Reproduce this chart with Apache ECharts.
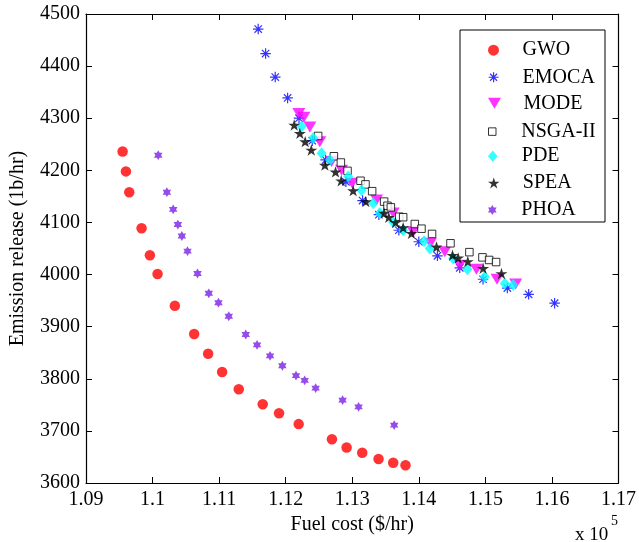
<!DOCTYPE html>
<html>
<head>
<meta charset="utf-8">
<script src="https://cdn.jsdelivr.net/npm/echarts@6/dist/echarts.min.js"></script>
<style>html,body{margin:0;padding:0;background:#fff}#c{width:639px;height:542px}</style>
</head>
<body>
<div id="c"></div>
<script>
// Data (fuel cost in $/hr, emission in lb/hr)
var seriesNames = ['GWO', 'EMOCA', 'MODE', 'NSGA-II', 'PDE', 'SPEA', 'PHOA'];
var xTicks = { min: 109000, max: 117000, step: 1000 };
var yTicks = { min: 3600, max: 4500, step: 100 };

var gwoX = [109550,109600,109650,109835,109960,110075,110335,110625,110835,111045,111295,111655,111900,112195,112695,112915,113150,113395,113615,113800];
var gwoY = [4236,4198,4158,4089,4037,4001,3940,3886,3848,3813,3780,3751,3734,3713,3684,3668,3658,3646,3639,3634];

var emocaX = [111587,111698,111843,112029,112200,112400,112600,112905,113155,113400,113700,114000,114280,114615,114965,115330,115650,116040];
var emocaY = [4471,4424,4379,4339,4300,4257,4220,4178,4142,4115,4085,4063,4036,4013,3991,3974,3962,3945];

var modeX = [112198,112273,112363,112513,112690,112840,113000,113365,113615,113915,114175,114390,114615,114865,115175,115455];
var modeY = [4309,4302,4283,4255,4217,4200,4175,4143,4118,4082,4060,4044,4018,4010,3991,3982];

var nsgaX = [112488,112724,112829,112929,113124,113199,113299,113479,113529,113580,113705,113765,113940,114040,114199,114476,114760,114956,115056,115161];
var nsgaY = [4266,4227,4215,4199,4180,4173,4160,4140,4132,4129,4111,4110,4097,4088,4078,4060,4043,4033,4028,4024];

var pdeX = [112238,112413,112539,112665,112939,113139,113314,113414,113614,113765,114078,114165,114516,114730,114991,115291,115417];
var pdeY = [4284,4262,4233,4220,4188,4162,4137,4118,4101,4085,4064,4050,4031,4010,3996,3983,3980];

var speaX = [112128,112213,112293,112385,112589,112749,112834,113014,113204,113479,113549,113650,113765,113890,114266,114506,114591,114736,114966,115242];
var speaY = [4287,4271,4255,4239,4210,4197,4180,4161,4140,4118,4110,4100,4090,4079,4053,4037,4032,4025,4012,4002];

var phoaX = [110085,110215,110310,110380,110440,110525,110675,110845,110990,111145,111400,111570,111765,111950,112155,112285,112450,112855,113095,113630];
var phoaY = [4229,4158,4125,4096,4074,4045,4002,3964,3946,3920,3885,3865,3844,3825,3806,3797,3782,3759,3746,3711];

function pairs(xs, ys) { return xs.map(function (x, i) { return [x, ys[i]]; }); }

var FONT = 'Liberation Serif';
var STAR5 = 'path://M0,-100L22.45,-30.9L95.1,-30.9L36.3,11.8L58.8,80.9L0,38.2L-58.8,80.9L-36.3,11.8L-95.1,-30.9L-22.45,-30.9Z';
var HEX6 = 'path://M0,-100L28.87,-50L86.6,-50L57.7,0L86.6,50L28.87,50L0,100L-28.87,50L-86.6,50L-57.7,0L-86.6,-50L-28.87,-50Z';
var ASTER = 'path://M0,-10L0,10M-10,0L10,0M-7,-7L7,7M-7,7L7,-7';
var TRIDOWN = 'path://M0,0L20,0L10,17Z';
var SQUARE = 'path://M0,0L10,0L10,10L0,10Z';
var DIAMOND = 'path://M5,0L10,6L5,12L0,6Z';

var styles = [
  { symbol: 'circle', size: 10.5, legendH: 11, item: { color: '#ff0000' }, lbw: 0 },
  { symbol: ASTER, size: 10.5, legendH: 10, item: { color: '#0000ff', borderColor: '#0000ff', borderWidth: 1.2 }, lbw: 1.2 },
  { symbol: TRIDOWN, size: [13, 11], legendH: 11, item: { color: '#ff00ff' }, lbw: 0 },
  { symbol: SQUARE, size: 7.5, legendH: 7.5, item: { color: '#ffffff', borderColor: '#000000', borderWidth: 1 }, lbw: 1 },
  { symbol: DIAMOND, size: [10, 12], legendH: 11.5, item: { color: '#00ffff' }, lbw: 0 },
  { symbol: STAR5, size: [12, 11.4], legendH: 11, item: { color: '#000000' }, lbw: 0 },
  { symbol: HEX6, size: [8.5, 9.8], legendH: 10, item: { color: '#7b1fe6' }, lbw: 0 }
];
var dataSets = [pairs(gwoX, gwoY), pairs(emocaX, emocaY), pairs(modeX, modeY), pairs(nsgaX, nsgaY), pairs(pdeX, pdeY), pairs(speaX, speaY), pairs(phoaX, phoaY)];

var series = seriesNames.map(function (n, i) {
  return {
    name: n, type: 'scatter', data: dataSets[i],
    symbol: styles[i].symbol, symbolSize: styles[i].size,
    itemStyle: styles[i].item, emphasis: { disabled: true }, z: 2 + i
  };
});

var legends = seriesNames.map(function (n, i) {
  var h = styles[i].legendH;
  var yc = 45.7 + i * 26.55;
  return {
    data: [n], orient: 'vertical', left: 488, top: yc - h / 2,
    itemWidth: 48, itemHeight: h, itemGap: 0, padding: 0,
    symbolKeepAspect: true, selectedMode: false,
    itemStyle: { borderWidth: styles[i].lbw },
    textStyle: { fontFamily: FONT, fontSize: 20, color: '#000' }
  };
});

var axisCommon = {
  axisLine: { show: true, lineStyle: { color: '#000', width: 1.2 } },
  axisTick: { show: true, inside: true, length: 6, lineStyle: { color: '#000', width: 1 } },
  splitLine: { show: false }
};

function xfmt(v) { return String(parseFloat((v / 1e5).toFixed(2))); }
function yfmt(v) { return String(v); }

var option = {
  animation: false,
  backgroundColor: '#fff',
  grid: { left: 86, right: 20, top: 14, bottom: 59 },
  xAxis: [
    Object.assign({ type: 'value', min: xTicks.min, max: xTicks.max, interval: xTicks.step, position: 'bottom',
      name: 'Fuel cost ($/hr)', nameLocation: 'middle', nameGap: 28,
      nameTextStyle: { fontFamily: FONT, fontSize: 20, color: '#000' },
      axisLabel: { formatter: xfmt, fontFamily: FONT, fontSize: 20, color: '#000', margin: 7 } }, axisCommon),
    Object.assign({ type: 'value', min: xTicks.min, max: xTicks.max, interval: xTicks.step, position: 'top',
      axisLabel: { show: false } }, axisCommon)
  ],
  yAxis: [
    Object.assign({ type: 'value', min: yTicks.min, max: yTicks.max, interval: yTicks.step, position: 'left',
      name: 'Emission release (1b/hr)', nameLocation: 'middle', nameGap: 58,
      nameTextStyle: { fontFamily: FONT, fontSize: 20, color: '#000' },
      axisLabel: { formatter: yfmt, fontFamily: FONT, fontSize: 20, color: '#000', margin: 6 } }, axisCommon),
    Object.assign({ type: 'value', min: yTicks.min, max: yTicks.max, interval: yTicks.step, position: 'right',
      axisLabel: { show: false } }, axisCommon)
  ],
  legend: legends,
  graphic: [
    { type: 'rect', left: 459.5, top: 29.5, shape: { width: 145, height: 192 }, style: { fill: '#fff', stroke: '#000', lineWidth: 1 }, z: 3 },
    { type: 'text', left: 575, top: 526, style: { text: 'x 10', font: '19px "Liberation Serif"', fill: '#000' }, z: 5 },
    { type: 'text', left: 611, top: 514, style: { text: '5', font: '14px "Liberation Serif"', fill: '#000' }, z: 5 }
  ],
  series: series
};

var chart = echarts.init(document.getElementById('c'), null, { renderer: 'canvas' });
chart.setOption(option);
</script>
</body>
</html>
